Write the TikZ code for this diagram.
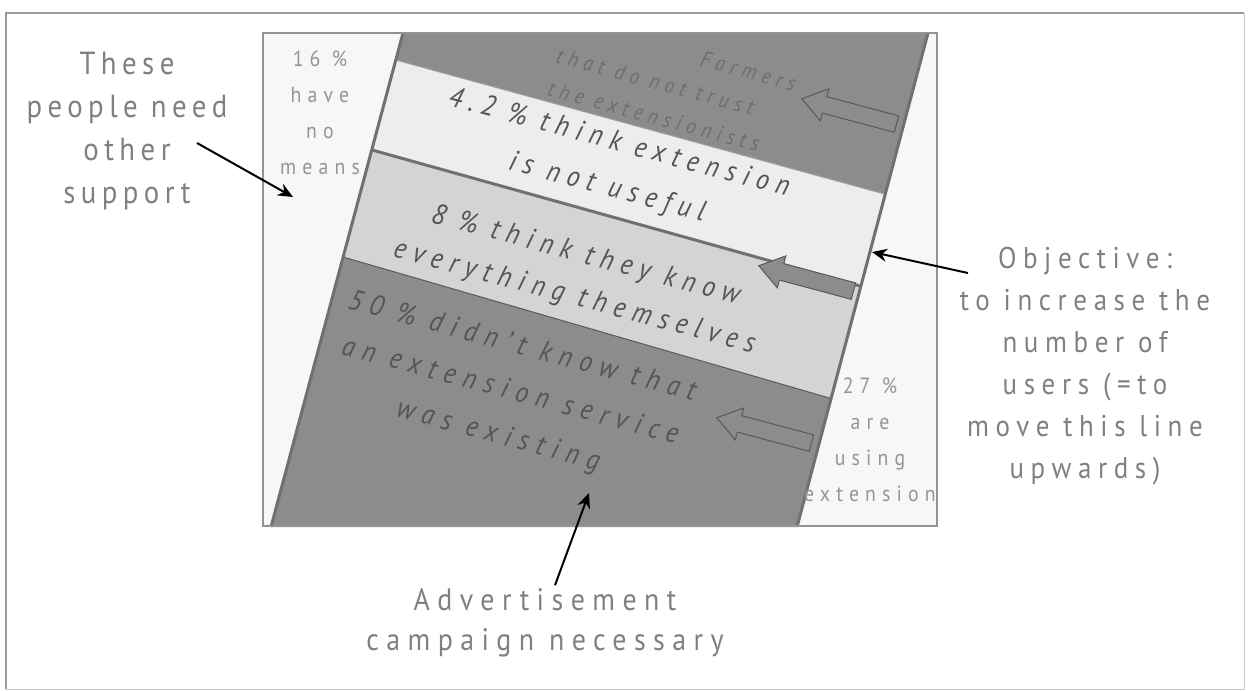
\documentclass[tikz,border=0pt]{standalone}
\usepackage{fontspec}
\setsansfont{PT Sans}[FakeStretch=0.9]
\usetikzlibrary{shapes.arrows, arrows.meta}

\definecolor{bandgray}{HTML}{8C8C8C}
\definecolor{stripewhite}{HTML}{EDEDED}
\definecolor{stripelight}{HTML}{D4D4D4}
\definecolor{paleback}{HTML}{F7F7F7}
\definecolor{labelgray}{HTML}{808080}
\definecolor{smallgray}{HTML}{959595}
\definecolor{bandtext}{HTML}{555555}
\definecolor{edgegray}{HTML}{707070}

\newcommand{\spaced}[3]{\sffamily\fontsize{#1}{#2}\selectfont\addfontfeature{LetterSpace=#3}}

\begin{document}
\begin{tikzpicture}[x=1pt, y=-1pt,
    note/.style={align=center, text=labelgray, font=\spaced{32}{43}{17}},
    small note/.style={align=center, text=smallgray, font=\spaced{22}{36}{28}},
    band text/.style={align=center, text=bandtext, rotate=-15, font=\itshape\spaced{29}{46}{25}},
    push/.style={single arrow, draw=black!65, fill=bandgray, line width=1pt, rotate=165,
        minimum height=98pt, text height=0pt, text depth=0pt, inner xsep=0pt, inner ysep=8pt,
        single arrow head extend=8pt, single arrow tip angle=70},
    pointer/.style={-{Stealth[length=15pt,width=13pt]}, line width=2pt}]

    \useasboundingbox (0,0) rectangle (1251,691);

    % outer frame
    \draw[gray!45, line width=1pt] (1244,13) -- (1244,689) -- (6,689);
    \draw[gray!80, line width=2pt] (6,689) -- (6,13) -- (1244,13);

    % box with the tilted band
    \fill[paleback] (263,33) rectangle (937,526);
    \begin{scope}
        \clip (403,33) -- (928,33) -- (797,527) -- (271,527) -- cycle;
        \fill[bandgray] (250,20) rectangle (950,540);
        \fill[stripewhite] (250,20) -- (950,212) -- (950,311) -- (250,116) -- cycle;
        \fill[stripelight] (250,116) -- (950,311) -- (950,433) -- (250,230) -- cycle;
        \draw[gray!75, line width=1pt] (250,20) -- (950,212);
        \draw[edgegray, line width=3pt] (250,116) -- (950,311);
        \draw[gray!70!black, line width=1pt] (250,230) -- (950,433);

        % texts in the band
        \node (distrust) [band text, align=left, text=bandtext!85, font=\itshape\spaced{22}{34}{25}]
            at (672,86) {\hspace*{140pt}Farmers\\that do not trust\\the extensionists};
        \node (useless) [band text] at (613,166) {4.2 \% think extension\\is not useful};
        \node (knowall) [band text, font=\itshape\spaced{29}{43}{25}] at (580,277) {8 \% think they know\\everything themselves};
        \node (unaware) [band text, font=\itshape\spaced{29}{46}{27}] at (510,392) {50 \% didn't know that\\an extension service\\was existing};

        % block arrows
        \node (pushtop) [push] at (855,113) {};
        \node (pushmid) [push] at (812,280) {};
        \node (pushlow) [push] at (770,432) {};
    \end{scope}
    \draw[edgegray, line width=3pt] (403,33) -- (271,527);
    \draw[edgegray, line width=3pt] (928,33) -- (797,527);
    \draw[gray!85, line width=2.5pt] (263,33) rectangle (937,526);

    % side texts
    \node (nomeans) [small note] at (320,113) {16 \%\\have\\no\\means};
    \node (users) [small note] at (870,440) {27 \%\\are\\using\\extension};
    \node (people) [note] at (127,131) {These\\people need\\other\\support};
    \node (objective) [note, font=\spaced{30}{42}{22}] at (1085,366)
        {Objective:\\to increase the\\number of\\users (=to\\move this line\\upwards)};
    \node (advert) [note, font=\spaced{31}{40}{24}] at (545,623)
        {Advertisement\\campaign necessary};

    % pointers
    \coordinate (peoplefrom) at (197,143);
    \coordinate (peopleto) at (293,197);
    \coordinate (objfrom) at (968,273);
    \coordinate (objto) at (872,252);
    \coordinate (advertto) at (589,493);
    \draw[pointer] (peoplefrom) -- (peopleto);
    \draw[pointer] (objfrom) -- (objto);
    \draw[pointer] ([xshift=10pt]advert.north) -- (advertto);
\end{tikzpicture}
\end{document}
